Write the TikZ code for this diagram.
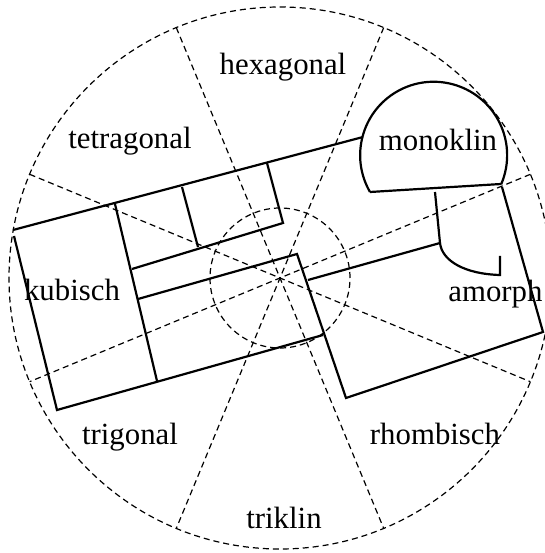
\documentclass[tikz,border=0pt]{standalone}
\usepackage{fontspec}
\setmainfont{Liberation Serif}
\usetikzlibrary{calc}

\begin{document}
\begin{tikzpicture}[
  x=0.5pt, y=0.5pt,
  guide/.style={dash pattern=on 3pt off 2pt, line width=0.6pt},
  wall/.style={line width=1.1pt},
  sysname/.style={font=\fontsize{15.4}{18}\selectfont, inner sep=0pt, anchor=base}
]
\useasboundingbox (0,0) rectangle (545,553);
\clip (0,0) rectangle (545,553);

\coordinate (mitte) at (280,275);
\draw[guide] (mitte) circle[radius=271];
\draw[guide] (mitte) circle[radius=70];
\foreach \a in {22.5,67.5,112.5,157.5}
  \draw[guide] ($(mitte)+(\a:271)$) -- ($(mitte)+(\a+180:271)$);

\coordinate (kubOL) at (13,323);
\coordinate (kubOR) at (363,416);
\coordinate (kubL) at (14,317);
\coordinate (kubUL) at (57,143);
\coordinate (kubUR) at (323,218);
\coordinate (trennO) at (115,349);
\coordinate (trennU) at (157,172);
\coordinate (tetraL) at (132,284);
\coordinate (tetraR) at (283,330);
\coordinate (tetraO) at (267,390);
\coordinate (tetraMO) at (182,366);
\coordinate (tetraMU) at (198,306);
\coordinate (mittelL) at (138,254);
\coordinate (rhombOL) at (297,299);
\coordinate (rhombUL) at (346,155);
\coordinate (rhombUR) at (543,221);
\coordinate (rhombOR) at (502,366);
\coordinate (streifL) at (308,273);
\coordinate (streifR) at (440,310);
\coordinate (domL) at (370,361);
\coordinate (domR) at (501,369);
\coordinate (stielO) at (435,361);
\coordinate (hakenE) at (500,278);
\coordinate (hakenO) at (500,297);

\draw[wall] (kubOL) -- (kubOR);
\draw[wall] (kubL) -- (kubUL) -- (kubUR);
\draw[wall] (trennO) -- (trennU);
\draw[wall] (tetraL) -- (tetraR) -- (tetraO);
\draw[wall] (tetraMO) -- (tetraMU);
\draw[wall] (mittelL) -- (rhombOL) -- (rhombUL) -- (rhombUR) -- (rhombOR);
\draw[wall] (streifL) -- (streifR);
\draw[wall] (domL) arc[start angle=210, end angle=-23.4, radius=73.5];
\draw[wall] (domL) -- (domR);
\draw[wall] (stielO) -- (streifR)
  .. controls (442,292) and (465,279) .. (hakenE) -- (hakenO);

\node[sysname] (hexagonal) at (283,478) {hexagonal};
\node[sysname] (tetragonal) at (130,404) {tetragonal};
\node[sysname] (monoklin) at (438,402) {monoklin};
\node[sysname] (kubisch) at (72,252) {kubisch};
\node[sysname, anchor=base west] (amorph) at (448,251) {amorph};
\node[sysname] (trigonal) at (130,108) {trigonal};
\node[sysname] (triklin) at (284,25) {triklin};
\node[sysname] (rhombisch) at (435,108) {rhombisch};
\end{tikzpicture}
\end{document}
